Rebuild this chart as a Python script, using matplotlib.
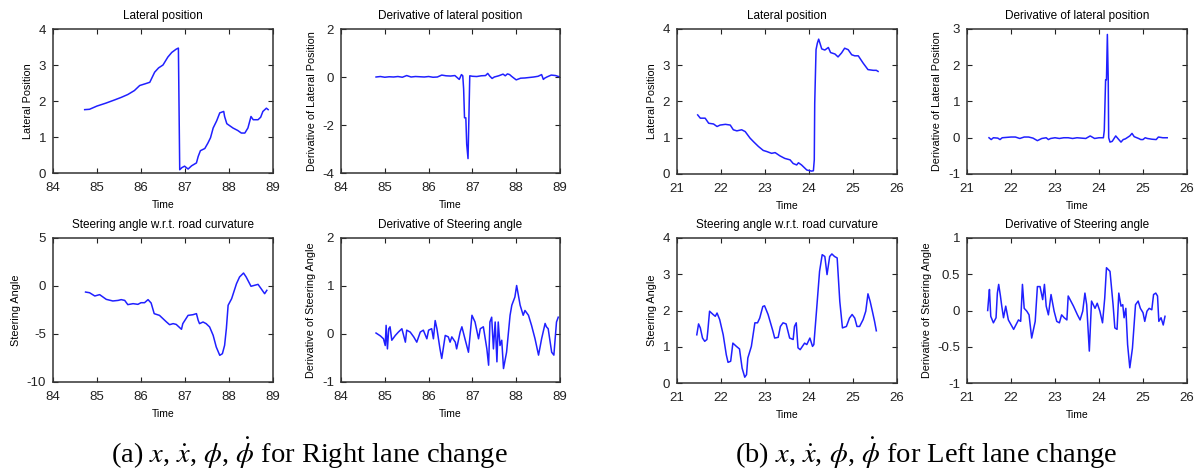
import numpy as np
import matplotlib
matplotlib.use('Agg')
import matplotlib.pyplot as plt

plt.rcParams['font.family'] = 'Liberation Sans'
plt.rcParams['mathtext.fontset'] = 'stix'

# ---- (a) right lane change ----
a_lat_t = [84.72, 84.83, 85.0, 85.2, 85.4, 85.55, 85.7, 85.85, 85.97, 86.1, 86.2, 86.31, 86.4, 86.5,
           86.61, 86.7, 86.8, 86.85, 86.88, 86.93, 86.99, 87.07, 87.15, 87.26, 87.3, 87.35, 87.45,
           87.52, 87.58, 87.64, 87.72, 87.79, 87.88, 87.9, 87.95, 88.02, 88.09, 88.2, 88.28, 88.36,
           88.43, 88.5, 88.55, 88.66, 88.72, 88.77, 88.85, 88.89]
a_lat_y = [1.76, 1.77, 1.86, 1.94, 2.03, 2.1, 2.18, 2.29, 2.43, 2.48, 2.52, 2.8, 2.92, 3.0,
           3.22, 3.35, 3.44, 3.47, 0.09, 0.15, 0.19, 0.11, 0.2, 0.28, 0.46, 0.62, 0.68,
           0.83, 0.98, 1.25, 1.45, 1.67, 1.71, 1.57, 1.37, 1.31, 1.25, 1.18, 1.11, 1.11,
           1.25, 1.57, 1.48, 1.48, 1.55, 1.71, 1.8, 1.76]

a_dlat_t = [84.8, 84.9, 85.0, 85.1, 85.2, 85.3, 85.4, 85.5, 85.6, 85.7, 85.8, 85.9, 86.0, 86.1,
            86.2, 86.3, 86.4, 86.5, 86.6, 86.7, 86.75, 86.78, 86.8, 86.82, 86.85, 86.87, 86.9,
            86.92, 86.94, 87.0, 87.1, 87.2, 87.3, 87.35, 87.4, 87.45, 87.5, 87.6, 87.7, 87.75,
            87.8, 87.85, 87.9, 88.0, 88.1, 88.2, 88.3, 88.4, 88.5, 88.58, 88.62, 88.65, 88.7,
            88.8, 88.9, 89.0]
a_dlat_y = [0.0, 0.02, -0.01, 0.01, 0.0, 0.02, -0.01, 0.06, 0.0, 0.02, 0.01, 0.0, 0.02, -0.01,
            0.0, 0.08, 0.05, 0.04, 0.06, -0.1, 0.1, 0.05, -0.5, -1.7, -1.7, -2.8, -3.4,
            -1.7, 0.05, 0.03, 0.02, 0.05, 0.06, 0.15, 0.03, -0.06, 0.0, 0.05, 0.12, 0.05,
            0.13, 0.1, 0.02, -0.12, -0.05, -0.04, -0.02, 0.0, 0.03, 0.1, -0.1, -0.05, 0.0,
            0.08, 0.06, 0.0]

a_st_t = [84.74, 84.83, 84.95, 85.06, 85.21, 85.36, 85.48, 85.55, 85.63, 85.7, 85.82, 85.93,
          86.0, 86.08, 86.16, 86.23, 86.3, 86.42, 86.58, 86.65, 86.73, 86.8, 86.92, 86.95,
          87.07, 87.18, 87.26, 87.3, 87.33, 87.41, 87.48, 87.56, 87.64, 87.71, 87.79, 87.85,
          87.9, 87.94, 87.98, 88.06, 88.17, 88.24, 88.33, 88.39, 88.5, 88.58, 88.66, 88.73,
          88.81, 88.86]
a_st_y = [-0.63, -0.7, -1.04, -0.9, -1.39, -1.56, -1.5, -1.42, -1.5, -1.94, -1.84, -1.91,
          -1.74, -1.74, -1.42, -1.77, -2.88, -3.06, -3.75, -4.03, -3.92, -4.0, -4.51, -3.92,
          -3.06, -2.99, -2.88, -3.58, -3.92, -3.75, -3.92, -4.27, -5.14, -6.35, -7.22, -7.05,
          -6.18, -4.44, -2.01, -1.32, 0.24, 0.94, 1.35, 0.94, -0.03, 0.07, 0.17, -0.28,
          -0.8, -0.45]

a_dst_t = [84.8, 84.9, 84.97, 85.01, 85.03, 85.06, 85.09, 85.12, 85.16, 85.24, 85.31, 85.39,
           85.47, 85.5, 85.58, 85.66, 85.73, 85.81, 85.88, 85.96, 86.0, 86.07, 86.11, 86.15,
           86.19, 86.26, 86.3, 86.38, 86.45, 86.49, 86.53, 86.61, 86.64, 86.72, 86.76, 86.83,
           86.91, 86.99, 87.06, 87.14, 87.18, 87.25, 87.33, 87.37, 87.4, 87.44, 87.48, 87.52,
           87.56, 87.59, 87.63, 87.67, 87.71, 87.78, 87.86, 87.9, 87.97, 88.01, 88.09, 88.16,
           88.2, 88.28, 88.35, 88.43, 88.51, 88.58, 88.66, 88.69, 88.73, 88.81, 88.86, 88.92,
           88.96]
a_dst_y = [0.02, -0.04, -0.1, -0.24, 0.18, -0.31, 0.11, 0.15, -0.13, -0.03, 0.04, 0.11,
           -0.17, 0.08, 0.04, -0.06, -0.17, 0.04, 0.08, -0.1, 0.08, 0.11, -0.1, 0.28,
           0.11, -0.31, -0.51, -0.03, -0.06, -0.17, -0.06, -0.17, -0.31, 0.04, 0.15, -0.1,
           -0.38, 0.39, 0.25, -0.1, 0.11, 0.15, -0.31, -0.65, 0.25, 0.35, -0.31, 0.25,
           -0.58, 0.25, -0.24, -0.13, -0.72, -0.38, 0.39, 0.6, 0.77, 1.01, 0.6, 0.39,
           0.49, 0.39, 0.18, -0.1, -0.44, -0.1, 0.22, 0.15, 0.11, -0.38, -0.44, 0.25,
           0.35]

# ---- (b) left lane change ----
b_lat_t = [21.47, 21.53, 21.64, 21.72, 21.83, 21.91, 21.98, 22.1, 22.21, 22.28, 22.36, 22.47,
           22.55, 22.66, 22.74, 22.85, 22.96, 23.04, 23.15, 23.23, 23.34, 23.45, 23.57, 23.64,
           23.72, 23.76, 23.83, 23.95, 24.06, 24.1, 24.12, 24.13, 24.16, 24.19, 24.22, 24.29,
           24.36, 24.44, 24.49, 24.59, 24.66, 24.74, 24.81, 24.89, 24.97, 25.04, 25.12, 25.23,
           25.34, 25.46, 25.53, 25.57]
b_lat_y = [1.63, 1.54, 1.54, 1.4, 1.38, 1.31, 1.35, 1.37, 1.35, 1.22, 1.19, 1.22,
           1.17, 0.99, 0.89, 0.76, 0.65, 0.62, 0.57, 0.59, 0.5, 0.43, 0.39, 0.29,
           0.25, 0.31, 0.25, 0.11, 0.08, 0.09, 0.39, 1.95, 3.43, 3.61, 3.72, 3.45,
           3.42, 3.49, 3.35, 3.31, 3.23, 3.34, 3.47, 3.43, 3.29, 3.26, 3.26, 3.06,
           2.88, 2.86, 2.86, 2.83]

b_dlat_t = [21.5, 21.55, 21.6, 21.7, 21.75, 21.8, 22.0, 22.1, 22.2, 22.3, 22.4, 22.5, 22.6,
            22.7, 22.8, 22.85, 22.9, 23.0, 23.1, 23.2, 23.3, 23.4, 23.5, 23.6, 23.7, 23.8,
            23.9, 24.0, 24.1, 24.12, 24.15, 24.17, 24.19, 24.21, 24.22, 24.25, 24.3, 24.38,
            24.45, 24.5, 24.55, 24.6, 24.7, 24.75, 24.8, 24.9, 24.95, 25.0, 25.05, 25.1,
            25.2, 25.3, 25.35, 25.45, 25.55]
b_dlat_y = [0.0, -0.05, 0.0, -0.01, -0.05, 0.0, 0.02, 0.02, -0.02, 0.02, 0.02, -0.01, -0.08,
            -0.02, 0.0, -0.05, -0.02, 0.0, -0.02, 0.0, 0.0, -0.02, 0.0, -0.01, -0.02, 0.05,
            -0.02, 0.0, 0.0, 0.2, 1.6, 1.6, 2.85, 1.6, 0.0, -0.12, -0.1, 0.05,
            -0.05, -0.12, -0.05, -0.03, 0.05, 0.12, 0.03, -0.02, -0.05, -0.05, 0.0, -0.02,
            -0.04, -0.05, 0.02, 0.0, 0.0]

b_st_t = [21.45, 21.49, 21.53, 21.58, 21.63, 21.68, 21.7, 21.74, 21.82, 21.87, 21.91, 21.97,
          22.05, 22.12, 22.16, 22.22, 22.27, 22.35, 22.42, 22.48, 22.54, 22.58, 22.61, 22.69,
          22.77, 22.83, 22.88, 22.95, 22.99, 23.07, 23.18, 23.22, 23.3, 23.35, 23.41, 23.48,
          23.56, 23.64, 23.67, 23.71, 23.75, 23.8, 23.9, 23.95, 24.02, 24.08, 24.11, 24.17,
          24.24, 24.3, 24.36, 24.41, 24.47, 24.52, 24.58, 24.64, 24.7, 24.76, 24.85, 24.92,
          24.98, 25.04, 25.09, 25.15, 25.23, 25.29, 25.34, 25.39, 25.44, 25.49, 25.53]
b_st_y = [1.33, 1.63, 1.52, 1.24, 1.15, 1.2, 1.43, 1.98, 1.89, 1.84, 1.93, 1.75,
          1.33, 0.78, 0.57, 0.6, 1.1, 1.01, 0.94, 0.41, 0.16, 0.23, 0.69, 1.01,
          1.66, 1.66, 1.79, 2.11, 2.13, 1.89, 1.43, 1.24, 1.26, 1.56, 1.66, 1.63,
          1.24, 1.2, 1.56, 1.66, 0.97, 0.92, 1.1, 1.06, 1.24, 1.01, 1.06, 1.98,
          3.08, 3.54, 3.49, 2.99, 3.49, 3.56, 3.49, 3.45, 2.25, 1.52, 1.56, 1.79,
          1.89, 1.79, 1.56, 1.56, 1.75, 1.98, 2.46, 2.25, 1.98, 1.7, 1.44]

b_dst_t = [21.47, 21.49, 21.51, 21.54, 21.6, 21.66, 21.69, 21.72, 21.76, 21.79, 21.83, 21.88,
           21.94, 22.06, 22.17, 22.22, 22.26, 22.3, 22.36, 22.41, 22.47, 22.55, 22.6, 22.66,
           22.72, 22.76, 22.8, 22.85, 22.91, 22.98, 23.04, 23.1, 23.15, 23.21, 23.27, 23.3,
           23.42, 23.51, 23.57, 23.63, 23.68, 23.72, 23.78, 23.83, 23.91, 23.96, 24.02, 24.08,
           24.13, 24.17, 24.25, 24.32, 24.36, 24.41, 24.45, 24.5, 24.54, 24.57, 24.61, 24.65,
           24.7, 24.76, 24.83, 24.89, 24.94, 25.0, 25.04, 25.09, 25.14, 25.2, 25.24, 25.29,
           25.33, 25.36, 25.41, 25.46, 25.5]
b_dst_y = [0.0, 0.15, 0.29, -0.08, -0.17, -0.1, 0.24, 0.36, 0.2, 0.06, -0.1, 0.06,
           -0.13, -0.26, -0.13, -0.15, 0.36, 0.03, -0.01, -0.06, -0.38, -0.15, 0.33, 0.33,
           0.15, 0.36, 0.06, -0.06, 0.22, -0.01, -0.15, -0.17, -0.06, -0.1, -0.13, 0.2,
           0.06, -0.06, -0.13, -0.01, 0.24, 0.08, -0.56, 0.13, 0.03, 0.1, -0.01, -0.17,
           0.17, 0.59, 0.54, 0.08, -0.24, -0.26, 0.24, 0.06, 0.08, -0.1, 0.03, -0.47,
           -0.79, -0.52, 0.08, 0.13, 0.03, -0.03, -0.15, -0.01, 0.03, 0.01, 0.22, 0.24,
           0.2, -0.15, -0.1, -0.2, -0.08]

a_xticks = [84, 85, 86, 87, 88, 89]
b_xticks = [21, 22, 23, 24, 25, 26]

W, H = 1200, 475
fig = plt.figure(figsize=(12, 4.75), dpi=100)


def make_axes(l, t, r, b):
    return fig.add_axes([l / W, 1 - b / H, (r - l) / W, (b - t) / H])


panels = [
    ((53, 29, 273, 173), a_lat_t, a_lat_y, a_xticks, (0, 4), [0, 1, 2, 3, 4],
     'Lateral position', 'Lateral Position'),
    ((341, 29, 560, 173), a_dlat_t, a_dlat_y, a_xticks, (-4, 2), [-4, -2, 0, 2],
     'Derivative of lateral position', 'Derivative of Lateral Position'),
    ((53, 238, 273, 382), a_st_t, a_st_y, a_xticks, (-10, 5), [-10, -5, 0, 5],
     'Steering angle w.r.t. road curvature', 'Steering Angle'),
    ((341, 238, 560, 382), a_dst_t, a_dst_y, a_xticks, (-1, 2), [-1, 0, 1, 2],
     'Derivative of Steering angle', 'Derivative of Steering Angle'),
    ((677, 29, 897, 174), b_lat_t, b_lat_y, b_xticks, (0, 4), [0, 1, 2, 3, 4],
     'Lateral position', 'Lateral Position'),
    ((967, 29, 1187, 174), b_dlat_t, b_dlat_y, b_xticks, (-1, 3), [-1, 0, 1, 2, 3],
     'Derivative of lateral position', 'Derivative of Lateral Position'),
    ((677, 238, 897, 383), b_st_t, b_st_y, b_xticks, (0, 4), [0, 1, 2, 3, 4],
     'Steering angle w.r.t. road curvature', 'Steering Angle'),
    ((967, 238, 1187, 383), b_dst_t, b_dst_y, b_xticks, (-1, 1), [-1, -0.5, 0, 0.5, 1],
     'Derivative of Steering angle', 'Derivative of Steering Angle'),
]

for box, t, y, xt, ylim, yt, title, ylabel in panels:
    ax = make_axes(*box)
    ax.plot(t, y, color='#2020ff', linewidth=1.1)
    ax.set_xlim(xt[0], xt[-1])
    ax.set_ylim(*ylim)
    ax.set_xticks(xt)
    ax.set_yticks(yt)
    ax.set_yticklabels([('%g' % v) for v in yt])
    ax.tick_params(direction='in', length=3.5, width=0.8, labelsize=9.5, top=True, right=True,
                   colors='#222222')
    ax.tick_params(axis='x', pad=6.5)
    ax.tick_params(axis='y', pad=5)
    for s in ax.spines.values():
        s.set_linewidth(1.1)
        s.set_color('#333333')
    ax.set_title(title, fontsize=8.5, pad=7)
    ax.set_xlabel('Time', fontsize=7.5, labelpad=4)
    ax.set_ylabel(ylabel, fontsize=7.8, labelpad=4)

# captions
cap = r'$x$, $\dot{x}$, $\phi$, $\dot{\phi}$ for '
fig.text(309 / W, 1 - 463 / H, '(a) ' + cap + 'Right lane change', ha='center', va='baseline',
         fontsize=20.5, family='Liberation Serif')
fig.text(926 / W, 1 - 463 / H, '(b) ' + cap + 'Left lane change', ha='center', va='baseline',
         fontsize=20.5, family='Liberation Serif')

fig.savefig('out.png', dpi=100)
